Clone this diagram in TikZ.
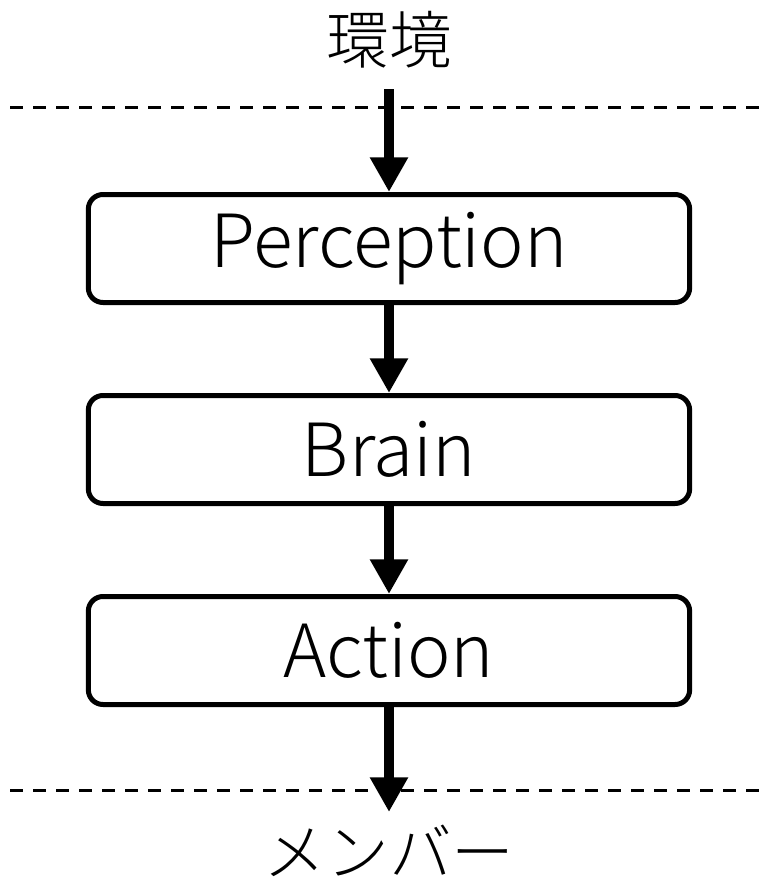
\documentclass[tikz,border=0pt]{standalone}
\usepackage{fontspec}
\setmainfont{Noto Sans CJK JP}[UprightFont=* Light]
\usetikzlibrary{arrows.meta}
\begin{document}
\begin{tikzpicture}[x=0.75pt,y=-0.75pt,
  stagebox/.style={draw=black,line width=3.75pt,rounded corners=11pt,
    minimum width=451pt,minimum height=81pt,inner sep=0pt,
    font=\fontsize{55}{62}\selectfont},
  flow/.style={line width=7.5pt,-{Triangle[width=27pt,length=26pt]}},
  border/.style={line width=2.25pt,dash pattern=on 9.75pt off 7.5pt},
  caption/.style={font=\fontsize{47}{54}\selectfont,inner sep=0pt}]
  \useasboundingbox (0,0) rectangle (767,882);
  % stages
  \node[stagebox] (perc) at (389,248.5) {Perception};
  \node[stagebox] (brain) at (389,449.5) {Brain};
  \node[stagebox] (act) at (389,650.5) {Action};
  % boundary lines
  \coordinate (tl) at (10,107);
  \coordinate (tr) at (767,107);
  \coordinate (bl) at (10,790);
  \coordinate (br) at (767,790);
  \draw[border] (tl) -- (tr);
  \draw[border] (bl) -- (br);
  % captions
  \node[caption] (env) at (389,40) {環境};
  \node[caption] (mem) at (389,851) {メンバー};
  % flow arrows
  \coordinate (in) at (389,89);
  \coordinate (out) at (389,812);
  \draw[flow] (in) -- (perc.north);
  \draw[flow] (perc.south) -- (brain.north);
  \draw[flow] (brain.south) -- (act.north);
  \draw[flow] (act.south) -- (out);
\end{tikzpicture}
\end{document}
